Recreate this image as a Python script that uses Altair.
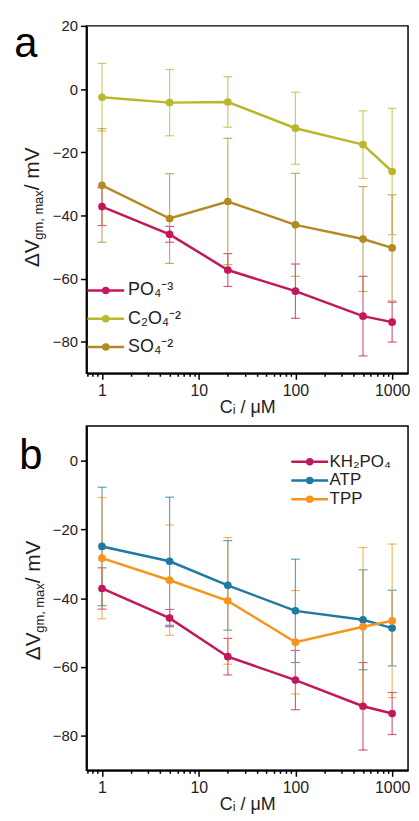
import altair as alt
import pandas as pd

FONT = "Liberation Sans"

# ---------------- data ----------------
x_vals = [1, 5, 20, 100, 500, 1000]

# panel a
a_series = ["PO₄⁻³", "C₂O₄⁻²", "SO₄⁻²"]
a_colors = ["#c2185b", "#b8b82a", "#b38a22"]
po4_mean = [-37.2, -46.0, -57.3, -64.0, -71.9, -73.8]
po4_err = [6.0, 2.5, 5.2, 8.6, 12.6, 6.3]
c2o4_mean = [-2.6, -4.3, -4.1, -12.4, -17.6, -26.1]
c2o4_err = [10.7, 10.5, 8.0, 11.4, 10.7, 20.0]
so4_mean = [-30.5, -41.0, -35.6, -43.0, -47.5, -50.3]
so4_err = [18.0, 14.2, 20.0, 16.3, 16.6, 16.8]

# panel b
b_series = ["KH₂PO₄", "ATP", "TPP"]
b_colors = ["#c2185b", "#1f7aa3", "#f7941d"]
kh2po4_mean = [-37.2, -45.8, -57.0, -63.8, -71.4, -73.5]
kh2po4_err = [6.0, 2.5, 5.3, 8.6, 12.7, 6.1]
atp_mean = [-25.0, -29.3, -36.3, -43.7, -46.3, -48.7]
atp_err = [17.2, 18.6, 13.0, 15.0, 14.5, 11.0]
tpp_mean = [-28.4, -34.8, -40.8, -52.8, -48.3, -46.6]
tpp_err = [17.6, 16.0, 18.4, 15.0, 23.0, 22.3]

x_ticks = [0.7, 0.8, 0.9, 1, 2, 3, 4, 5, 6, 7, 8, 9, 10, 20, 30, 40, 50, 60, 70, 80, 90,
           100, 200, 300, 400, 500, 600, 700, 800, 900, 1000]
x_major = [1, 10, 100, 1000]
a_yticks = [-80, -70, -60, -50, -40, -30, -20, -10, 0, 10, 20]
b_yticks = [-80, -70, -60, -50, -40, -30, -20, -10, 0, 10]
ytitle_parts = ["ΔV", "gm, max", " / mV"]
x_title = "Cᵢ / μM"


def make_df(series, means, errs):
    rows = []
    for s, m, e in zip(series, means, errs):
        for xv, mv, ev in zip(x_vals, m, e):
            rows.append({"series": s, "x": xv, "y": mv, "lo": mv - ev, "hi": mv + ev})
    return pd.DataFrame(rows)


df_a = make_df(a_series, [po4_mean, c2o4_mean, so4_mean], [po4_err, c2o4_err, so4_err])
df_b = make_df(b_series, [kh2po4_mean, atp_mean, tpp_mean], [kh2po4_err, atp_err, tpp_err])

# line with a dot in the middle (unit = sqrt(symbolSize)/2 = 7 px)
LEG_PATH = "M-2.65,0L2.65,0M0.36,0A0.36,0.36,0,1,1,-0.36,0A0.36,0.36,0,1,1,0.36,0Z"

major_test_x = " || ".join(f"datum.value == {v}" for v in x_major)


def panel(df, series, colors, ydom, yvals, letter, letter_pos, leg_x, leg_y, row_pad,
          leg_fs, leg_off, yt_start, yt_x, w, h):
    xscale = alt.Scale(type="log", domain=[0.69, 1460], nice=False)
    yscale = alt.Scale(domain=ydom, nice=False, zero=False)
    xaxis = alt.Axis(
        values=x_ticks, format="d",
        labelExpr=f"({major_test_x}) ? datum.label : ''",
        tickSize={"condition": {"test": major_test_x, "value": 6}, "value": 3},
        title=x_title, labelOverlap=False, labelFlush=False, grid=False,
        labelPadding=3, titlePadding=0, labelFontSize=16,
    )
    yaxis = alt.Axis(
        values=yvals,
        labelExpr="datum.value % 20 == 0 ? datum.label : ''",
        tickSize={"condition": {"test": "datum.value % 20 == 0", "value": 6}, "value": 3},
        title=None, labelOverlap=False, grid=False, labelPadding=3,
    )
    cscale = alt.Scale(domain=series, range=colors)
    legend = alt.Legend(
        title=None, orient="none", legendX=leg_x, legendY=leg_y,
        symbolType=LEG_PATH, symbolSize=196, symbolStrokeWidth=2.5,
        symbolOpacity=1,
        labelFont=FONT, labelFontSize=leg_fs, labelColor="#222",
        rowPadding=row_pad, labelOffset=leg_off,
    )
    base = alt.Chart(df)
    err = base.mark_errorbar(ticks={"size": 9}, thickness=1.2, opacity=0.7).encode(
        x=alt.X("x:Q", scale=xscale, axis=xaxis),
        y=alt.Y("lo:Q", scale=yscale, axis=yaxis),
        y2="hi:Q",
        color=alt.Color("series:N", scale=cscale, legend=legend),
    )
    line = base.mark_line(strokeWidth=2.5).encode(
        x=alt.X("x:Q", scale=xscale),
        y=alt.Y("y:Q", scale=yscale),
        color=alt.Color("series:N", scale=cscale, legend=legend),
    )
    pts = base.mark_point(filled=True, size=60, opacity=1).encode(
        x=alt.X("x:Q", scale=xscale),
        y=alt.Y("y:Q", scale=yscale),
        color=alt.Color("series:N", scale=cscale, legend=legend),
    )
    lab = alt.Chart(pd.DataFrame({"t": [letter]})).mark_text(
        font=FONT, fontSize=42, align="center", baseline="alphabetic", color="black"
    ).encode(text="t:N", x=alt.value(letter_pos[0]), y=alt.value(letter_pos[1]))

    # y-axis title made of rotated pieces (main text + subscript)
    sizes = [21, 13, 21]
    widths = [27.6, 49.8, 49.0]
    offs = [0, 4, 0]
    layers = []
    pos = yt_start
    for part, fs, wd, off in zip(ytitle_parts, sizes, widths, offs):
        layers.append(
            alt.Chart(pd.DataFrame({"t": [part]})).mark_text(
                font=FONT, fontSize=fs, align="left", baseline="alphabetic",
                angle=270, color="#222"
            ).encode(text="t:N", x=alt.value(yt_x + off), y=alt.value(pos))
        )
        pos -= wd
    return alt.layer(err, line, pts, lab, *layers).properties(width=w, height=h)


pa = panel(df_a, a_series, a_colors, [-90, 20], a_yticks, "a", (-61, 31),
           10.5, 257.5, 10.5, 18, 13.5, 243, -48, 324, 350)
pb = panel(df_b, b_series, b_colors, [-90, 10], b_yticks, "b", (-56, 43),
           216.5, 27.5, 1, 17, 11.5, 236, -47, 324, 347)

chart = alt.vconcat(pa, pb, spacing=8).resolve_scale(
    x="independent", y="independent", color="independent"
).properties(
    padding={"left": 5, "top": 7, "right": 0, "bottom": 0},
    background="white",
).configure_view(
    stroke="black", strokeWidth=1.5
).configure_axis(
    domainColor="black", domainWidth=2, tickColor="black", tickWidth=1.5,
    labelFont=FONT, labelFontSize=15, labelColor="#222",
    titleFont=FONT, titleFontSize=18, titleColor="#222", titleFontWeight="normal",
)

chart.save("out.html", embed_options={"renderer": "svg", "actions": False})
